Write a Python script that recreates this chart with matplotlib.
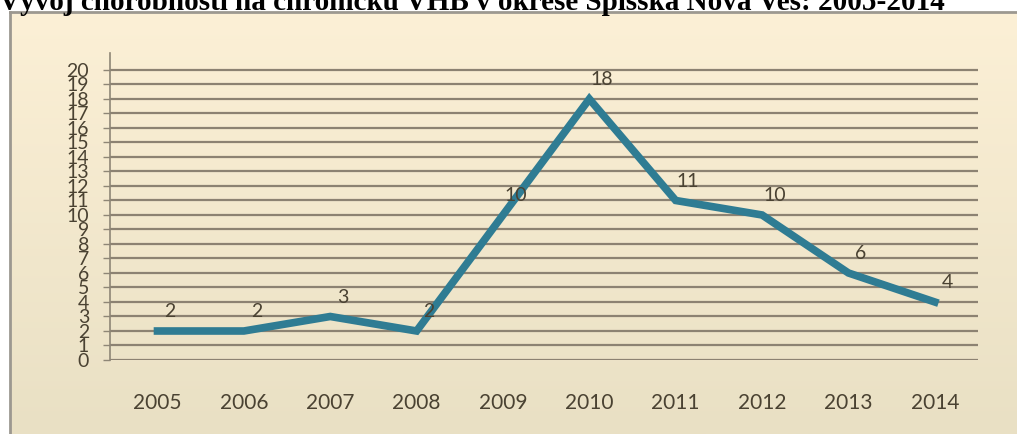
import numpy as np
import matplotlib.pyplot as plt

years = ["2005", "2006", "2007", "2008", "2009", "2010", "2011", "2012", "2013", "2014"]
cases = [2, 2, 3, 2, 10, 18, 11, 10, 6, 4]
y_ticks = list(range(0, 21))

title = "Vývoj chorobnosti na chronickú VHB v okrese Spišská Nová Ves: 2005-2014"

W, H = 1017, 434
fig = plt.figure(figsize=(W / 100, H / 100), dpi=100)

# background panel with soft gradient, framed on the left and top
bg = fig.add_axes([10 / W, 0, 1 - 10 / W, (H - 12) / H])
grad = np.linspace(0, 1, 256).reshape(-1, 1)
top = np.array([252, 240, 214]) / 255
bot = np.array([233, 224, 196]) / 255
img = top + (bot - top) * grad[..., None]
bg.imshow(img, aspect="auto", extent=[0, 1, 0, 1])
bg.set_xticks([])
bg.set_yticks([])
for side in ["right", "bottom"]:
    bg.spines[side].set_visible(False)
for side in ["left", "top"]:
    bg.spines[side].set_color("#9c9890")
    bg.spines[side].set_linewidth(2)

fig.text(472 / W, (H - 10) / H, title, ha="center", va="baseline",
         family="Liberation Serif", weight="bold", fontsize=21, color="black")

ax = fig.add_axes([110 / W, (H - 360) / H, (978 - 110) / W, (360 - 53) / H])
ax.set_facecolor("none")
x = np.arange(len(years))
ax.set_xlim(-0.55, len(years) - 0.5)
ax.set_ylim(0, 21.17)

ax.set_yticks(y_ticks)
ax.set_yticklabels([str(v) for v in y_ticks], family="Lato", fontsize=14, color="#4a4232")
ax.set_xticks(x)
ax.set_xticklabels(years, family="Lato", fontsize=15, color="#4a4232")
ax.tick_params(axis="x", length=0, pad=24)
ax.tick_params(axis="y", length=5, width=1, color="#8e8676", pad=10)

for v in y_ticks:
    ax.axhline(v, color="#8c8272", lw=1.6, zorder=1)

for side in ["top", "right", "bottom"]:
    ax.spines[side].set_visible(False)
ax.spines["left"].set_color("#8e8676")
ax.spines["left"].set_linewidth(1.2)

ax.plot(x, cases, color="#2f7c93", lw=5.5, solid_joinstyle="miter", zorder=3)

for xi, v in zip(x, cases):
    ax.annotate(str(v), (xi, v), xytext=(9, 14), textcoords="offset points",
                ha="center", va="center", family="Lato", fontsize=14,
                color="#4a4232", zorder=4)

fig.savefig("out.png", dpi=100)
